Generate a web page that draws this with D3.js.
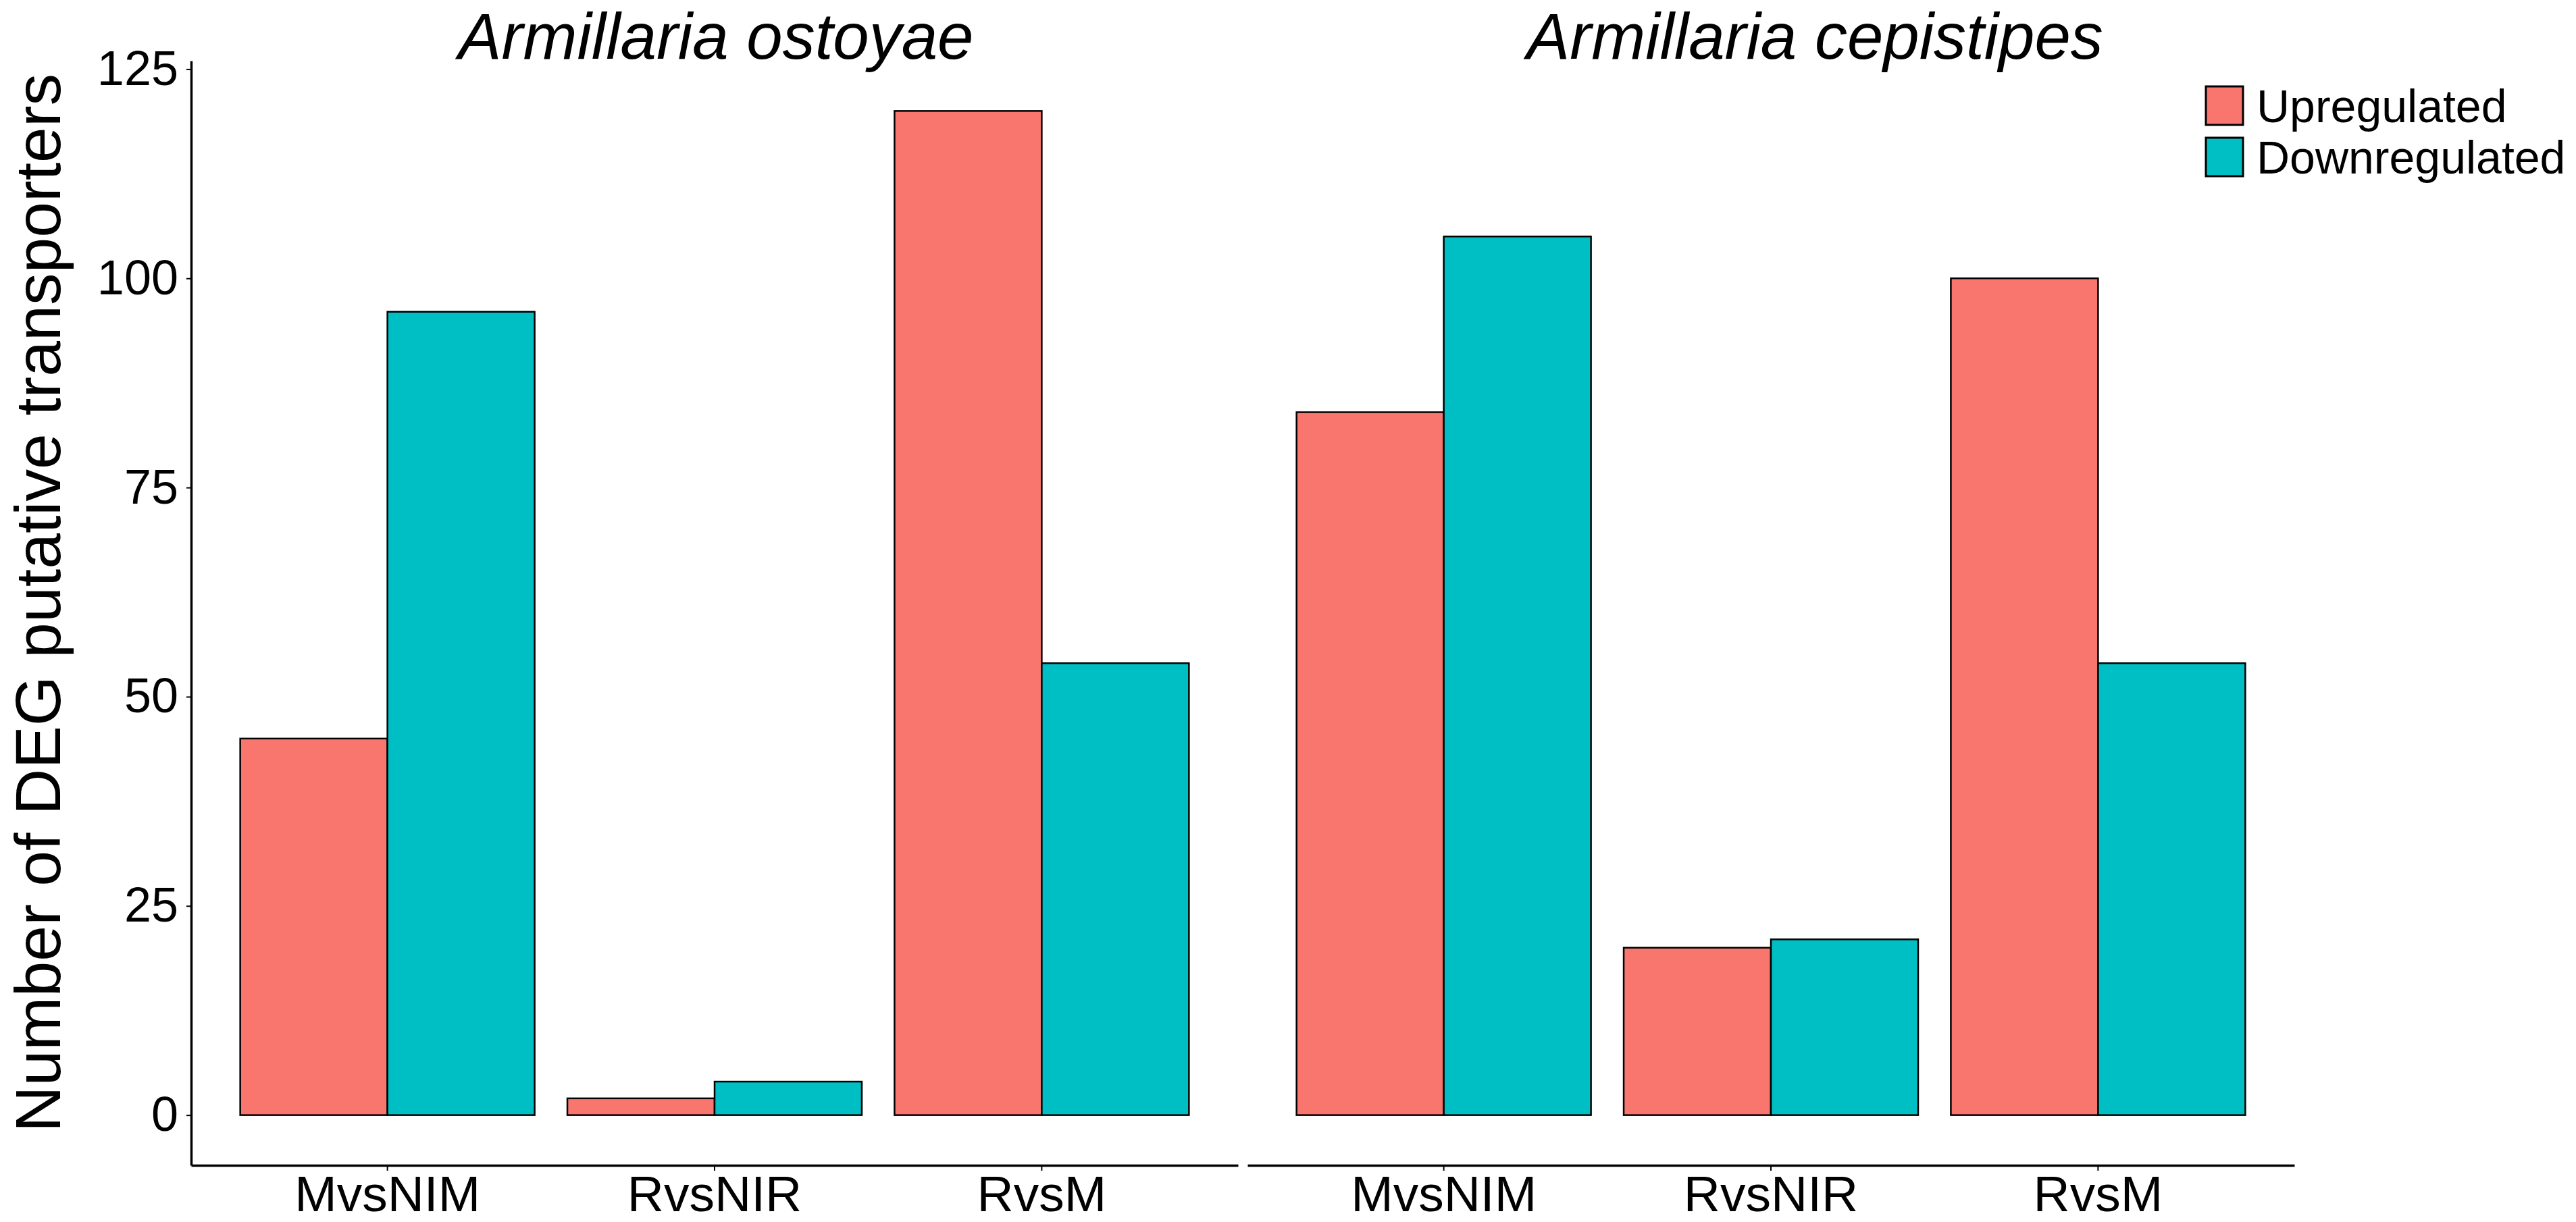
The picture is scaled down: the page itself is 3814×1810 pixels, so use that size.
<!DOCTYPE html>
<html>
<head>
<meta charset="utf-8">
<script src="https://cdn.jsdelivr.net/npm/d3@7"></script>
<style>
  body { margin: 0; background: #fff; }
  svg { display: block; font-family: "Liberation Sans", Arial, sans-serif; }
</style>
</head>
<body>
<svg id="chart"></svg>
<script>
// data
const species = ["Armillaria ostoyae", "Armillaria cepistipes"];
const comparisons = ["MvsNIM", "RvsNIR", "RvsM"];
const regulation = ["Upregulated", "Downregulated"];
const ostoyaeUp = [45, 2, 120];
const ostoyaeDown = [96, 4, 54];
const cepistipesUp = [84, 20, 100];
const cepistipesDown = [105, 21, 54];
const yTicks = [0, 25, 50, 75, 100, 125];

const width = 3814;
const height = 1810;
const colors = ["#F8766D", "#00BFC4"];

const panels = [
  { name: species[0], up: ostoyaeUp, down: ostoyaeDown, left: 283, titleX: 1060 },
  { name: species[1], up: cepistipesUp, down: cepistipesDown, left: 1847, titleX: 2687 }
];
const panelW = 1550;
const plotTop = 90, plotBottom = 1726;

const svg = d3.select("#chart").attr("width", width).attr("height", height);

const y = d3.scaleLinear().domain([-6, 126]).range([plotBottom, plotTop]);
const color = d3.scaleOrdinal().domain(regulation).range(colors);

panels.forEach((p, pi) => {
  const x = d3.scaleBand()
    .domain(comparisons)
    .range([p.left, p.left + panelW])
    .paddingInner(0.1)
    .paddingOuter(0.15);
  const xs = d3.scaleBand().domain(regulation).range([0, x.bandwidth()]);

  const rows = comparisons.flatMap((c, i) => [
    { c, g: regulation[0], v: p.up[i] },
    { c, g: regulation[1], v: p.down[i] }
  ]);

  svg.append("g")
    .selectAll("rect")
    .data(rows)
    .join("rect")
    .attr("x", (d) => x(d.c) + xs(d.g))
    .attr("y", (d) => y(d.v))
    .attr("width", xs.bandwidth())
    .attr("height", (d) => y(0) - y(d.v))
    .attr("fill", (d) => color(d.g))
    .attr("stroke", "#000")
    .attr("stroke-width", 2.5);

  // x axis
  const gx = svg.append("g")
    .attr("transform", `translate(0,${plotBottom})`)
    .call(d3.axisBottom(x).tickSize(8).tickPadding(7).tickSizeOuter(0));
  gx.select(".domain").attr("stroke-width", 3.5);
  gx.selectAll(".tick line").attr("stroke-width", 2);
  gx.selectAll(".tick text")
    .attr("font-size", 75)
    .attr("fill", "#000")
    .attr("font-family", "Liberation Sans, Arial, sans-serif");

  // strip title
  svg.append("text")
    .attr("x", p.titleX)
    .attr("y", 87)
    .attr("text-anchor", "middle")
    .attr("font-size", 96)
    .attr("font-style", "italic")
    .text(p.name);

  if (pi === 0) {
    const gy = svg.append("g")
      .attr("transform", `translate(${p.left},0)`)
      .call(d3.axisLeft(y).tickValues(yTicks).tickSize(7).tickPadding(12).tickSizeOuter(0));
    gy.select(".domain").attr("stroke-width", 3.5);
    gy.selectAll(".tick line").attr("stroke-width", 2);
    gy.selectAll(".tick text")
      .attr("font-size", 72)
      .attr("fill", "#000")
      .attr("font-family", "Liberation Sans, Arial, sans-serif");
  }
});

// y axis title
svg.append("text")
  .attr("transform", "translate(89,893) rotate(-90)")
  .attr("text-anchor", "middle")
  .attr("font-size", 95)
  .text("Number of DEG putative transporters");

// legend
const legend = svg.append("g").attr("transform", "translate(3266,128)");
const item = legend.selectAll("g")
  .data(regulation)
  .join("g")
  .attr("transform", (d, i) => `translate(0,${i * 76})`);
item.append("rect")
  .attr("width", 55)
  .attr("height", 57)
  .attr("fill", (d) => color(d))
  .attr("stroke", "#000")
  .attr("stroke-width", 3);
item.append("text")
  .attr("x", 75)
  .attr("y", 29)
  .attr("dy", "0.35em")
  .attr("font-size", 68)
  .text((d) => d);
</script>
</body>
</html>
